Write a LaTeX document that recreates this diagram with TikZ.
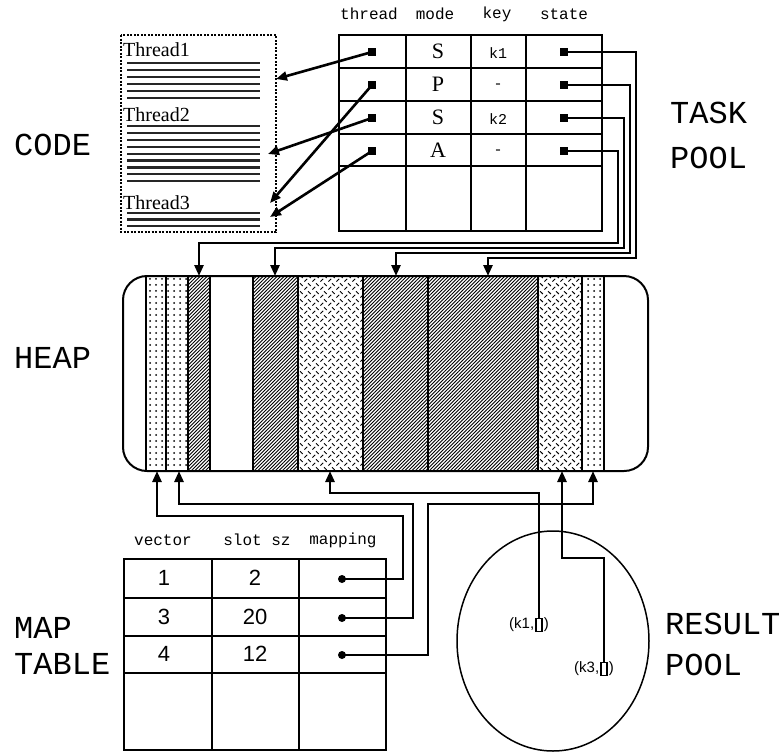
\documentclass[tikz,border=0pt]{standalone}
\usepackage{fontspec}
\setmainfont{Liberation Serif}
\setsansfont{Liberation Sans}
\setmonofont{Liberation Mono}
\usetikzlibrary{arrows.meta,patterns}

% fill patterns for the heap slots
\pgfdeclarepatternformonly{sparsedots}{\pgfqpoint{-1.5pt}{-1.5pt}}{\pgfqpoint{1.5pt}{1.5pt}}{\pgfqpoint{6pt}{6pt}}{%
  \pgfpathcircle{\pgfqpoint{0pt}{0pt}}{1pt}\pgfusepath{fill}}
\pgfdeclarepatternformonly{weave}{\pgfqpoint{0pt}{0pt}}{\pgfqpoint{8pt}{8pt}}{\pgfqpoint{8pt}{8pt}}{%
  \pgfsetlinewidth{1.1pt}
  \pgfpathmoveto{\pgfqpoint{0.5pt}{0.5pt}}\pgfpathlineto{\pgfqpoint{3.5pt}{3.5pt}}
  \pgfpathmoveto{\pgfqpoint{4.5pt}{7.5pt}}\pgfpathlineto{\pgfqpoint{7.5pt}{4.5pt}}
  \pgfusepath{stroke}}
\pgfdeclarepatternformonly{hatch}{\pgfqpoint{-1pt}{-1pt}}{\pgfqpoint{4pt}{4pt}}{\pgfqpoint{3.5pt}{3.5pt}}{%
  \pgfsetlinewidth{0.9pt}
  \pgfpathmoveto{\pgfqpoint{0pt}{0pt}}\pgfpathlineto{\pgfqpoint{3.6pt}{3.6pt}}
  \pgfusepath{stroke}}

\begin{document}
\begin{tikzpicture}[x=1pt,y=-1pt,
    tabline/.style={line width=1.8pt},
    conn/.style={line width=2.6pt, -{Triangle[length=11pt,width=9pt]}},
    ptr/.style={draw, fill, minimum size=7pt, inner sep=0pt},
    mapdot/.style={circle, fill, minimum size=8pt, inner sep=0pt},
    resbox/.style={draw, line width=1.2pt, minimum width=6pt, minimum height=13pt, inner sep=0pt},
    biglabel/.style={font=\ttfamily\fontsize{32}{32}\selectfont, inner sep=0pt, anchor=west},
    hdr/.style={font=\ttfamily\fontsize{16}{16}\selectfont, inner sep=0pt},
    keytext/.style={font=\ttfamily\fontsize{15}{15}\selectfont, inner sep=0pt},
    modetext/.style={font=\fontsize{22}{22}\selectfont, inner sep=0pt},
    threadtext/.style={font=\fontsize{20}{20}\selectfont, inner sep=0pt, anchor=west},
    numtext/.style={font=\sffamily\fontsize{22}{22}\selectfont, inner sep=0pt},
    restext/.style={font=\sffamily\fontsize{15}{15}\selectfont, inner sep=0pt},
    codeline/.style={line width=2.2pt, black!85}]
    \useasboundingbox (0,0) rectangle (784,753);

    % Side labels
    \node[biglabel] (lcode) at (14,145) {CODE};
    \node[biglabel] (lheap) at (14,358) {HEAP};
    \node[biglabel] (ltask) at (670,113) {TASK};
    \node[biglabel] (ltpool) at (670,158) {POOL};
    \node[biglabel] (lmap) at (14,628) {MAP};
    \node[biglabel] (ltable) at (14,664) {TABLE};
    \node[biglabel] (lresult) at (665,624) {RESULT};
    \node[biglabel] (lrpool) at (665,665) {POOL};

    % Code box
    \draw[line width=2pt, dash pattern=on 2pt off 1.5pt] (121,35) rectangle (276,232);
    \node[threadtext] (th1) at (123,50) {Thread1};
    \node[threadtext] (th2) at (123,115) {Thread2};
    \node[threadtext] (th3) at (123,203) {Thread3};
    \foreach \i in {0,...,5}
        \draw[codeline] (127,63+\i*7) -- (260,63+\i*7);
    \foreach \i in {0,...,8}
        \draw[codeline] (127,126+\i*6.9) -- (260,126+\i*6.9);
    \foreach \i in {0,...,2}
        \draw[codeline] (127,213+\i*6.5) -- (260,213+\i*6.5);

    % Task pool table
    \draw[tabline] (339,35) rectangle (602,231);
    \foreach \x in {406,471,526}
        \draw[tabline] (\x,35) -- (\x,231);
    \foreach \y in {68,101,134,166}
        \draw[tabline] (339,\y) -- (602,\y);
    \node[hdr] (hthread) at (369,14) {thread};
    \node[hdr] (hmode) at (435,14) {mode};
    \node[hdr] (hkey) at (497,14) {key};
    \node[hdr] (hstate) at (564,14) {state};
    \foreach \n/\y/\m/\k in {1/51/S/k1, 2/84/P/-, 3/117/S/k2, 4/150/A/-}{
        \node[modetext] (mode\n) at (438,\y) {\m};
        \node[keytext] (key\n) at (498,\y+2) {\k};
        \node[ptr] (tp\n) at (372,\y+1) {};
        \node[ptr] (sp\n) at (564,\y+1) {};
    }

    % Thread pointers into the code
    \coordinate (c1) at (276,79);
    \coordinate (c2) at (270,203);
    \coordinate (c3) at (268,154);
    \coordinate (c4) at (270,217);
    \foreach \n in {1,...,4}
        \draw[conn] (tp\n.center) -- (c\n);

    % Heap
    \foreach \xa/\xb/\pat in {146/166/sparsedots, 166/188/sparsedots, 188/210/hatch,
        253/298/hatch, 298/363/weave, 363/428/hatch,
        428/538/hatch, 538/582/weave, 582/604/sparsedots}
        \fill[pattern=\pat] (\xa,276) rectangle (\xb,471);
    \foreach \x in {146,166,188,210,253,298,363,428,538,582,604}
        \draw[line width=1.5pt] (\x,276) -- (\x,471);
    \draw[line width=2pt, rounded corners=24pt] (123,276) rectangle (648,471);

    % State pointers into the heap
    \coordinate (ht1) at (488,276);
    \coordinate (ht2) at (396,276);
    \coordinate (ht3) at (275,276);
    \coordinate (ht4) at (199,276);
    \draw[conn] (sp1.center) -| (636,258) -| (ht1);
    \draw[conn] (sp2.center) -| (630,253) -| (ht2);
    \draw[conn] (sp3.center) -| (624,248) -| (ht3);
    \draw[conn] (sp4.center) -| (618,243) -| (ht4);

    % Map table
    \draw[tabline] (124,559) rectangle (386,750);
    \foreach \x in {212,299}
        \draw[tabline] (\x,559) -- (\x,750);
    \foreach \y in {598,636,673}
        \draw[tabline] (124,\y) -- (386,\y);
    \node[hdr] (hvector) at (163,540) {vector};
    \node[hdr] (hslot) at (257,540) {slot sz};
    \node[hdr] (hmapping) at (343,540) {mapping};
    \foreach \n/\y/\v/\s in {1/578/1/2, 2/617/3/20, 3/654/4/12}{
        \node[numtext] (vec\n) at (164,\y) {\v};
        \node[numtext] (slot\n) at (255,\y) {\s};
        \node[mapdot] (mp\n) at (342,\y+1) {};
    }

    % Result pool
    \draw[line width=1.5pt] (553,641) ellipse (96 and 110);
    \node[resbox] (r1) at (539,625) {};
    \node[restext, anchor=east] (r1l) at ([xshift=-1pt]r1.west) {(k1,};
    \node[restext, anchor=west] (r1r) at ([xshift=1pt]r1.east) {)};
    \node[resbox] (r3) at (604,669) {};
    \node[restext, anchor=east] (r3l) at ([xshift=-1pt]r3.west) {(k3,};
    \node[restext, anchor=west] (r3r) at ([xshift=1pt]r3.east) {)};

    % Pointers from below into the heap
    \coordinate (hb1) at (157,471);
    \coordinate (hb2) at (179,471);
    \coordinate (hb3) at (330,471);
    \coordinate (hb4) at (562,471);
    \coordinate (hb5) at (593,471);
    \draw[conn] (mp1.center) -| (403,516) -| (hb1);
    \draw[conn] (mp2.center) -| (413,504) -| (hb2);
    \draw[conn] (mp3.center) -| (428,504) -| (hb5);
    \draw[conn] (r1.north) |- (330,493) -- (hb3);
    \draw[conn] (r3.north) |- (562,558) -- (hb4);
\end{tikzpicture}
\end{document}
